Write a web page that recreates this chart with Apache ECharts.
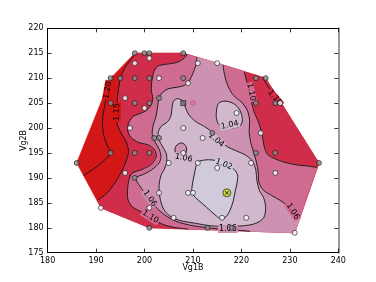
<!DOCTYPE html>
<html>
<head>
<meta charset="utf-8">
<script src="https://cdn.jsdelivr.net/npm/echarts@6/dist/echarts.min.js"></script>
<style>
html,body{margin:0;padding:0;background:#fff;}
#chart{width:376px;height:282px;}
</style>
</head>
<body>
<div id="chart"></div>
<script>
// ---- axis ticks ----
const X_TICKS = [180, 190, 200, 210, 220, 230, 240];
const Y_TICKS = [175, 180, 185, 190, 195, 200, 205, 210, 215, 220];

// ---- region outline (convex hull of the measured points) ----
const HULL = [[198,215],[208,215],[215,213],[225,210],[236,193],[231,179],[201,180],[191,184],[186,193],[193,210]];

// ---- contour lines (data coordinates) ----
const C120 = [[193.5,210.5],[192.6,208],[192,205.5],[191.5,203],[191.3,201],[191.6,198.5],[192.3,196.5],[193,195],[191.8,193.6],[190.2,192.3],[188.7,191.3],[187.4,190.5]];
const C115 = [[198.2,215],[197,213.5],[195.9,212],[195.1,210.2],[194.7,208.3],[194.4,206],[194.2,203.5],[194.2,201.5],[194.9,199.5],[196.2,197.3],[196.7,195.3],[196.2,193.3],[195.2,191.2],[193.9,189],[192.3,187],[190.3,185.5]];
const C110_LEFT = [[208.8,214.77],[208.1,213.9],[206.5,213.1],[204.5,212.8],[202.7,212.4],[201.9,211.2],[201.5,209.3],[201.4,207.6],[201.7,205.8],[201.1,204.2],[199.8,203.2],[197.8,202.4],[196.8,201.2],[196.5,199.6],[197.2,198.1],[198.8,197.1],[200.8,196.6],[202.1,195.6],[202.4,194.3],[201.5,192.8],[199.5,191.7],[197.4,190.9],[196.7,189.3],[196.5,187.3],[196.6,185.6],[197.5,184.2],[199.3,183.2],[201.2,182.1],[203.5,180.8],[206,180.1],[209,179.73]];
const C110_RIGHT = [[220.6,211.32],[221.1,209.3],[221.6,207.6],[222,205.5],[222.6,203.3],[223.6,201],[224.3,198.6],[224.7,196.3],[225.4,194.7],[226.8,193.9],[229,193.1],[231.5,192.6],[233.5,192.4],[235.6,192.1]];
const C110_EDGE = [[224.3,210.2],[225.3,208.6],[226.5,206.8],[227.6,205.2],[228.3,204.3]];
const C106_MAIN = [[210.8,214.2],[210.6,212.6],[210,211],[209.3,209.6],[208.3,208.6],[206.8,208.2],[205,207.9],[203.7,207.1],[203,206],[202.7,204.3],[202.4,202.4],[201.8,200.6],[201.6,198.7],[202.2,197.2],[203,195.8],[203.4,194.3],[203,193],[201.6,191.7],[200,190.8],[198.2,190],[198.8,188.7],[200,187.1],[201.3,185.5],[202.5,184],[204.3,182.5],[206.5,181.3],[209.5,180.5],[213,180],[216.5,179.7],[219.5,179.5],[221.8,179.31]];
const C106_RIGHT = [[216.2,212.64],[216.5,210.8],[217.2,208.5],[218.4,206.5],[220,205.2],[221.2,203.6],[221.7,201.5],[221.6,199.3],[221.9,197.2],[222.5,195.2],[223.1,193.2],[223.5,191],[223.6,189.2],[224.5,187.6],[226.2,186.5],[228,185.5],[229.8,184.2],[231.2,182.8],[232,181.8]];
const C104_MAIN = [[206.8,205.9],[207.9,205.4],[208.5,204],[209.2,202.6],[210.7,201.2],[212.4,200.3],[213.8,199.3],[215.3,197.8],[217,196.3],[219,195.4],[221,194.5],[222.3,193.3],[223,191.5],[223.2,189.5],[223.7,187.5],[224.6,186],[225,184],[224.6,182],[223,180.9],[220.5,180.4],[217,180.3],[213.5,180.4],[210.5,180.9],[208,181.3],[206,181.9],[204.5,183],[203.6,184.5],[203.1,186.5],[203,188.5],[203.4,190.5],[204.2,192],[204.6,193.3],[204.5,194.8],[203.8,196.2],[203,197.6],[202.8,199],[203.4,200.3],[204.8,201.3],[205.5,202.6],[205.7,204.2],[206,205.4]];
const C104_ISLAND = [[215.3,205],[216.6,205.4],[218.2,205],[219.4,204],[220,202.8],[220.2,201.4],[219.6,200.3],[218,200],[216.3,200.2],[215.2,200.9],[214.8,202.3],[214.9,203.8]];
const C_CIRCLE = [[207.5,197],[208.3,196.7],[208.7,195.8],[208.5,194.9],[207.8,194.4],[207,194.5],[206.4,195],[206.3,195.9],[206.7,196.6]];
const C102 = [[211,193.2],[212.5,193.6],[214,193.6],[215.5,193.3],[217,192.6],[218.5,191.7],[219.2,190.6],[219.1,189],[218.7,187.2],[218.3,185.3],[217.6,183.4],[216.8,182.2],[215.8,181.8],[214.8,182.4],[213.5,183.5],[212,184.8],[210.8,185.8],[209.8,187],[209.9,188.8],[210.3,190.8],[210.6,192.2]];

// ---- contour labels ----
const LABEL_TEXT = ['1.20','1.15','1.10','1.10','1.04','1.04','1.06','1.02','1.06','1.10','1.06','1.06'];
const LABEL_POS  = [[192.4,207.6],[194.3,203.2],[222.0,207.2],[226.9,206.1],[217.6,200.6],[214.8,197.6],[208.1,194.0],[216.4,192.7],[201.1,185.9],[201.2,182.2],[217.2,179.75],[230.6,183.3]];
const LABEL_ROT  = [80, 88, -78, -50, 12, -40, -12, -20, -55, -32, 0, -57];

// ---- sample points ----
const GRAY_PTS = [[198,215],[200,215],[201,215],[208,215],[193,210],[195,210],[198,210],[201,210],[208,210],[223,210],[225,210],[193,205],[198,205],[201,205],[223,205],[227,205],[203,206],[214,199],[202,198],[203,198],[193,195],[198,195],[201,195],[223,195],[227,195],[186,193],[236,193],[198,190],[201,180],[213,180],[218,180]];
const WHITE_PTS = [[201,214],[198,213],[211,213],[215,213],[203,210],[209,209],[196,206],[200,204],[228,205],[219,203],[197,200],[208,200],[224,199],[212,198],[208,195],[205,193],[211,193],[222,193],[215,192],[196,191],[227,191],[203,187],[209,187],[210,187],[191,184],[201,184],[206,182],[216,182],[221,182],[231,179]];
const SQUARE_PTS = [[208,205]];
const PINK_PTS = [[210,205]];
const BEST_PTS = [[217,187]];

const COL = {red:'#d31616', crimson:'#d02d4b', pink:'#cf6b90', lightpink:'#cd91b1', lavender:'#d1b8cc', lightest:'#d0cadb'};

const rev = a => a.slice().reverse();
const FILLS = [
  {pts: HULL, color: COL.red, smooth: 0},
  {pts: [...C115, [191,184],[201,180],[231,179],[236,193],[225,210],[215,213],[208,215]], color: COL.crimson, smooth: 0},
  {pts: [...C110_LEFT, [231,179], ...rev(C110_RIGHT), [215,213]], color: COL.pink, smooth: 0},
  {pts: [...C106_MAIN, [231,179], ...rev(C106_RIGHT), [215,213]], color: COL.lightpink, smooth: 0},
  {pts: C104_MAIN, color: COL.lavender, smooth: 0.3},
  {pts: C104_ISLAND, color: COL.lavender, smooth: 0.3},
  {pts: C_CIRCLE, color: COL.lightpink, smooth: 0.3},
  {pts: C102, color: COL.lightest, smooth: 0.3}
];
const LINES = [
  {pts: C120, closed:false}, {pts: C115, closed:false}, {pts: C110_LEFT, closed:false},
  {pts: C110_RIGHT, closed:false}, {pts: C110_EDGE, closed:false}, {pts: C106_MAIN, closed:false},
  {pts: C106_RIGHT, closed:false}, {pts: C104_MAIN, closed:true}, {pts: C104_ISLAND, closed:true},
  {pts: C_CIRCLE, closed:true}, {pts: C102, closed:true}
];
const LABEL_BG = [COL.red, COL.red, COL.pink, COL.crimson, COL.lavender, COL.lavender, COL.lavender, COL.lightest, COL.lightpink, COL.pink, COL.lightpink, COL.pink];

const FONT = '"DejaVu Sans", Verdana, sans-serif';
const chart = echarts.init(document.getElementById('chart'), null, {renderer:'canvas'});

const axisCommon = (show) => ({
  type:'value', splitLine:{show:false},
  axisLine:{show:true, onZero:false, lineStyle:{color:'#000', width:1}},
  axisTick:{show:true, inside:true, length:4, lineStyle:{color:'#000', width:0.8}},
  axisLabel:{show:show, color:'#000', fontSize:8, fontFamily:FONT, margin:4, showMinLabel:true, showMaxLabel:true}
});

const option = {
  animation:false,
  backgroundColor:'#fff',
  grid:{left:47.6, top:28.3, width:290.7, height:224.4, containLabel:false},
  xAxis:[
    Object.assign(axisCommon(true), {min:X_TICKS[0], max:X_TICKS[X_TICKS.length-1], interval:10, position:'bottom',
      name:'Vg1B', nameLocation:'middle', nameGap:11, nameMoveOverlap:false, nameTextStyle:{color:'#000', fontSize:8, fontFamily:FONT}}),
    Object.assign(axisCommon(false), {min:X_TICKS[0], max:X_TICKS[X_TICKS.length-1], interval:10, position:'top'})
  ],
  yAxis:[
    Object.assign(axisCommon(true), {min:Y_TICKS[0], max:Y_TICKS[Y_TICKS.length-1], interval:5, position:'left',
      name:'Vg2B', nameLocation:'middle', nameGap:20, nameMoveOverlap:false, nameTextStyle:{color:'#000', fontSize:8, fontFamily:FONT}}),
    Object.assign(axisCommon(false), {min:Y_TICKS[0], max:Y_TICKS[Y_TICKS.length-1], interval:5, position:'right',
      axisLine:{show:true, onZero:false, lineStyle:{color:'#9a9a9a', width:2}}})
  ],
  series:[
    {type:'custom', coordinateSystem:'cartesian2d', silent:true, z:1,
      data: FILLS.map(()=>[210,200]),
      renderItem:(params, api)=>{
        const f = FILLS[params.dataIndex];
        return {type:'polygon', shape:{points:f.pts.map(p=>api.coord(p)), smooth:f.smooth},
          style:{fill:f.color, stroke:f.color, lineWidth:0.6}};
      }},
    {type:'custom', coordinateSystem:'cartesian2d', silent:true, z:2,
      data: LINES.map(()=>[210,200]),
      renderItem:(params, api)=>{
        const l = LINES[params.dataIndex];
        return {type: l.closed ? 'polygon' : 'polyline', shape:{points:l.pts.map(p=>api.coord(p)), smooth:0.3},
          style:{fill:'none', stroke:'#111', lineWidth:0.9}};
      }},
    {type:'custom', coordinateSystem:'cartesian2d', silent:true, z:3,
      data: LABEL_POS,
      renderItem:(params, api)=>{
        const i = params.dataIndex;
        const c = api.coord(LABEL_POS[i]);
        return {type:'text', x:c[0], y:c[1], rotation: LABEL_ROT[i]*Math.PI/180,
          style:{text:LABEL_TEXT[i], x:0, y:0, fill:'#000', font:'8px '+FONT,
            align:'center', verticalAlign:'middle', textAlign:'center', textVerticalAlign:'middle',
            backgroundColor:LABEL_BG[i], padding:[0,1]}};
      }},
    {type:'scatter', data:GRAY_PTS, symbol:'circle', symbolSize:5, z:4,
      itemStyle:{color:'#8f8f8f', borderColor:'#111', borderWidth:0.8}},
    {type:'scatter', data:WHITE_PTS, symbol:'circle', symbolSize:5, z:4,
      itemStyle:{color:'#ffffff', borderColor:'#111', borderWidth:0.8}},
    {type:'scatter', data:SQUARE_PTS, symbol:'rect', symbolSize:5, z:4,
      itemStyle:{color:'#707070', borderColor:'#111', borderWidth:0.8}},
    {type:'scatter', data:PINK_PTS, symbol:'circle', symbolSize:5, z:4,
      itemStyle:{color:'#d5739c', borderColor:'#c25888', borderWidth:0.8}},
    {type:'scatter', data:BEST_PTS, symbol:'circle', symbolSize:8, z:4,
      itemStyle:{color:'#bcd317', borderColor:'#111', borderWidth:0.8}},
    {type:'scatter', data:BEST_PTS, symbol:'path://M0,0L10,10M10,0L0,10', symbolSize:3.5, z:5,
      itemStyle:{color:'none', borderColor:'#111', borderWidth:1}}
  ]
};
chart.setOption(option);
</script>
</body>
</html>
